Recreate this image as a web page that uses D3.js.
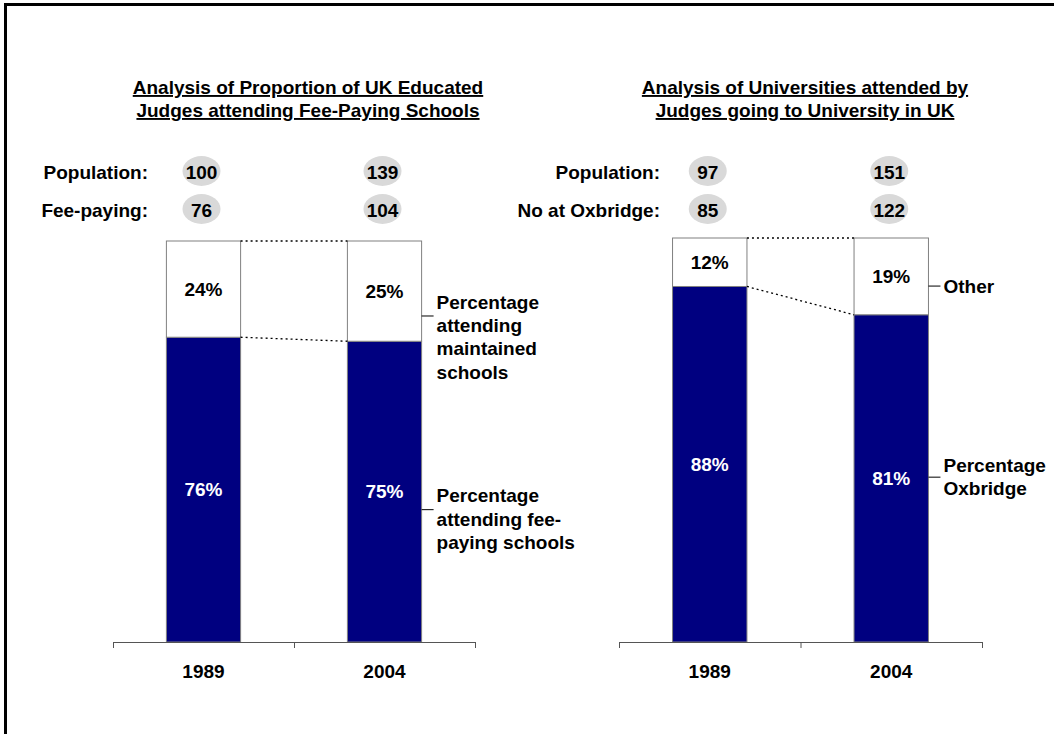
<!DOCTYPE html>
<html>
<head>
<meta charset="utf-8">
<script src="https://cdn.jsdelivr.net/npm/d3@7"></script>
<style>
  body { margin: 0; background: #fff; }
  svg { display: block; font-family: "Liberation Sans", Arial, sans-serif; font-weight: bold; }
</style>
</head>
<body>
<div id="container"></div>
<script>
const years = ["1989", "2004"];

// left panel
const leftPopulation = [100, 139];
const feePayingCount = [76, 104];
const feePayingPct = [76, 75];
const maintainedPct = [24, 25];

// right panel
const rightPopulation = [97, 151];
const oxbridgeCount = [85, 122];
const oxbridgePct = [88, 81];
const otherPct = [12, 19];

const W = 1054, H = 734;
const navy = "#000080";
const fs = "19px";

const svg = d3.select("#container").append("svg")
    .attr("width", W)
    .attr("height", H);

// outer frame (right/bottom edges run off the page)
svg.append("rect")
    .attr("x", 5.5).attr("y", 4.5)
    .attr("width", 1200).attr("height", 900)
    .attr("fill", "none")
    .attr("stroke", "#000")
    .attr("stroke-width", 3);

const drawPanel = (cfg) => {
    const x = d3.scaleBand()
        .domain(years)
        .range([cfg.x0, cfg.x1]);
    const y = d3.scaleLinear()
        .domain([0, 100])
        .range([642, cfg.top]);
    const barW = x.bandwidth() * 0.41;
    const barX = d => x(d) + (x.bandwidth() - barW) / 2;
    const mid = d => x(d) + x.bandwidth() / 2;

    const g = svg.append("g");

    // title
    const title = g.append("text")
        .attr("x", cfg.titleX)
        .attr("text-anchor", "middle")
        .style("font-size", fs)
        .style("text-decoration", "underline");
    cfg.title.forEach((t, i) => {
        title.append("tspan")
            .attr("x", cfg.titleX)
            .attr("y", 94 + i * 23)
            .text(t);
    });

    // population rows
    cfg.rows.forEach((row, r) => {
        const cy = 172 + r * 38;
        g.append("text")
            .attr("x", cfg.rowLabelX)
            .attr("y", cy)
            .attr("dy", "0.35em")
            .attr("text-anchor", "end")
            .style("font-size", fs)
            .text(row.label);
        years.forEach((yr, i) => {
            g.append("ellipse")
                .attr("cx", mid(yr) - 2)
                .attr("cy", cy - 1)
                .attr("rx", 19)
                .attr("ry", 15)
                .attr("fill", "#d9d9d9");
            g.append("text")
                .attr("x", mid(yr) - 2)
                .attr("y", cy)
                .attr("dy", "0.35em")
                .attr("text-anchor", "middle")
                .style("font-size", fs)
                .text(row.values[i]);
        });
    });

    // stacked bars
    years.forEach((yr, i) => {
        const lo = cfg.lower[i], hi = cfg.upper[i];
        g.append("rect")
            .attr("x", barX(yr))
            .attr("y", y(lo))
            .attr("width", barW)
            .attr("height", y(0) - y(lo))
            .attr("fill", navy)
            .attr("stroke", "#808080")
            .attr("stroke-width", 1);
        g.append("rect")
            .attr("x", barX(yr))
            .attr("y", y(lo + hi))
            .attr("width", barW)
            .attr("height", y(lo) - y(lo + hi))
            .attr("fill", "#fff")
            .attr("stroke", "#808080")
            .attr("stroke-width", 1);
        g.append("text")
            .attr("x", mid(yr))
            .attr("y", (y(0) + y(lo)) / 2)
            .attr("dy", "0.35em")
            .attr("text-anchor", "middle")
            .attr("fill", "#fff")
            .style("font-size", fs)
            .text(lo + "%");
        g.append("text")
            .attr("x", mid(yr))
            .attr("y", (y(lo) + y(lo + hi)) / 2)
            .attr("dy", "0.35em")
            .attr("text-anchor", "middle")
            .style("font-size", fs)
            .text(hi + "%");
    });

    // dotted connectors
    const a = years[0], b = years[1];
    [[cfg.lower[0] + cfg.upper[0], cfg.lower[1] + cfg.upper[1]], [cfg.lower[0], cfg.lower[1]]]
        .forEach(([v0, v1]) => {
            g.append("line")
                .attr("x1", barX(a) + barW).attr("y1", y(v0))
                .attr("x2", barX(b)).attr("y2", y(v1))
                .attr("stroke", "#000")
                .attr("stroke-width", 1.3)
                .attr("stroke-dasharray", "2,3");
        });

    // x axis (ticks at band edges)
    g.append("line")
        .attr("x1", cfg.x0).attr("x2", cfg.x1)
        .attr("y1", 642.5).attr("y2", 642.5)
        .attr("stroke", "#555");
    [...years.map(d => x(d)), cfg.x1].forEach(t => {
        g.append("line")
            .attr("x1", t + 0.5).attr("x2", t + 0.5)
            .attr("y1", 642).attr("y2", 648)
            .attr("stroke", "#555");
    });
    years.forEach(yr => {
        g.append("text")
            .attr("x", mid(yr))
            .attr("y", 671)
            .attr("dy", "0.35em")
            .attr("text-anchor", "middle")
            .style("font-size", fs)
            .text(yr);
    });

    // annotations beside the last bar
    const right = barX(b) + barW;
    cfg.notes.forEach(n => {
        const ly = y(n.at);
        g.append("line")
            .attr("x1", right).attr("x2", right + 12)
            .attr("y1", ly).attr("y2", ly)
            .attr("stroke", "#000");
        n.lines.forEach((t, k) => {
            g.append("text")
                .attr("x", right + 15)
                .attr("y", ly + n.dy + k * 23.3)
                .attr("dy", "0.35em")
                .style("font-size", fs)
                .text(t);
        });
    });
};

drawPanel({
    x0: 113, x1: 475, top: 241,
    titleX: 308,
    title: ["Analysis of Proportion of UK Educated", "Judges attending Fee-Paying Schools"],
    rowLabelX: 148,
    rows: [
        {label: "Population:", values: leftPopulation},
        {label: "Fee-paying:", values: feePayingCount}
    ],
    lower: feePayingPct,
    upper: maintainedPct,
    notes: [
        {at: 81.3, dy: -14, lines: ["Percentage", "attending", "maintained", "schools"]},
        {at: 33, dy: -14, lines: ["Percentage", "attending fee-", "paying schools"]}
    ]
});

drawPanel({
    x0: 619, x1: 982, top: 238,
    titleX: 805,
    title: ["Analysis of Universities attended by", "Judges going to University in UK"],
    rowLabelX: 660,
    rows: [
        {label: "Population:", values: rightPopulation},
        {label: "No at Oxbridge:", values: oxbridgeCount}
    ],
    lower: oxbridgePct,
    upper: otherPct,
    notes: [
        {at: 88.1, dy: 0, lines: ["Other"]},
        {at: 40.8, dy: -12, lines: ["Percentage", "Oxbridge"]}
    ]
});
</script>
</body>
</html>
